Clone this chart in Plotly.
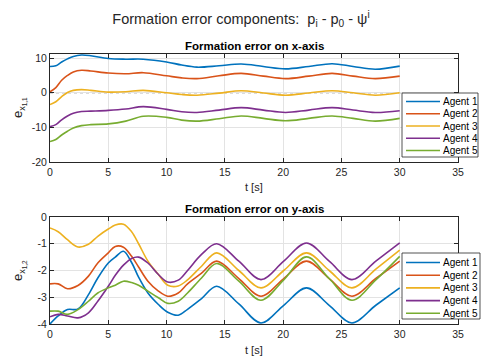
import plotly.graph_objects as go

# --- data ---
agents = ["Agent 1", "Agent 2", "Agent 3", "Agent 4", "Agent 5"]
colors = ["#0072BD", "#D95319", "#EDB120", "#7E2F8E", "#77AC30"]

# x-axis error (top panel)
t_x = [0, 0.5, 1.0, 1.5, 2.0, 2.7, 3.5, 5.0, 6.5, 8.0, 10.0, 11.3, 12.6,
       14.5, 16.4, 18.3, 20.2, 22.2, 24.2, 26.0, 27.9, 30.0]
ex_1 = [7.6, 7.8, 8.9, 9.8, 10.5, 10.9, 10.7, 9.9, 9.7, 9.7, 8.9, 8.0, 7.4,
        7.8, 8.3, 7.6, 6.9, 7.6, 8.4, 7.6, 6.8, 7.7]
ex_2 = [0.3, 1.5, 3.6, 5.0, 6.0, 6.5, 6.3, 5.7, 5.5, 5.8, 4.9, 4.3, 4.1,
        4.9, 5.6, 4.8, 4.1, 4.8, 5.6, 4.8, 4.1, 4.8]
ex_3 = [-3.4, -2.6, -1.1, 0.1, 0.7, 0.9, 0.7, 0.2, 0.3, 0.7, 0.0, -0.5, -0.7,
        -0.1, 0.6, -0.05, -0.7, -0.05, 0.6, 0.0, -0.7, 0.0]
ex_4 = [-9.8, -9.2, -7.8, -6.7, -5.9, -5.4, -5.3, -5.1, -4.7, -4.0, -4.8, -5.5, -5.7,
        -5.0, -4.3, -5.0, -5.7, -5.0, -4.3, -5.0, -5.7, -5.2]
ex_5 = [-14.1, -13.5, -12.2, -11.1, -10.2, -9.5, -9.2, -9.0, -8.2, -6.8, -7.1, -7.9, -8.2,
        -7.5, -6.7, -7.4, -8.1, -7.4, -6.7, -7.4, -8.2, -7.4]

# y-axis error (bottom panel)
t_y = [0, 0.7, 1.5, 2.4, 3.3, 4.1, 5.0, 5.6, 6.3, 7.0, 7.6, 8.4, 9.3, 10.1,
       11.0, 11.8, 13.0, 14.3, 16.2, 18.1, 20.05, 22.0, 23.95, 25.9, 27.95, 30.0]
ey_1 = [-4.0, -3.7, -3.46, -3.44, -2.9, -2.28, -1.72, -1.5, -1.28, -1.7, -2.25, -2.84, -3.27, -3.56,
        -3.67, -3.45, -3.05, -2.59, -3.25, -3.96, -3.3, -2.65, -3.3, -3.96, -3.3, -2.65]
ey_2 = [-2.5, -2.5, -2.68, -2.56, -2.21, -1.72, -1.34, -1.1, -1.13, -1.47, -1.87, -2.4, -2.77, -2.96,
        -2.84, -2.5, -2.1, -1.65, -2.3, -2.96, -2.3, -1.65, -2.3, -2.96, -2.3, -1.65]
ey_3 = [-0.41, -0.55, -0.85, -1.12, -1.02, -0.72, -0.45, -0.3, -0.27, -0.55, -1.0, -1.65, -2.15, -2.55,
        -2.58, -2.35, -1.84, -1.34, -2.0, -2.65, -2.0, -1.34, -2.0, -2.65, -1.95, -1.24]
ey_4 = [-3.73, -3.64, -3.7, -3.77, -3.58, -3.15, -2.59, -2.18, -1.8, -1.55, -1.5, -1.72, -2.15, -2.43,
        -2.36, -2.0, -1.4, -1.0, -1.65, -2.34, -1.65, -0.97, -1.65, -2.34, -1.65, -0.97]
ey_5 = [-3.52, -3.52, -3.64, -3.46, -3.15, -2.84, -2.65, -2.55, -2.4, -2.45, -2.55, -2.77, -3.02, -3.23,
        -3.15, -2.84, -2.28, -1.74, -2.4, -3.11, -2.35, -1.49, -2.3, -3.11, -2.35, -1.47]

x_ticks = [0, 5, 10, 15, 20, 25, 30, 35]
yx_ticks = [-20, -10, 0, 10]
yy_ticks = [-4, -3, -2, -1, 0]

W, H = 482, 361
FONT = "Liberation Sans, Arial, sans-serif"
AX = "#262626"
GRID = "#e3e3e3"

fig = go.Figure()

for name, col, ys in zip(agents, colors, [ex_1, ex_2, ex_3, ex_4, ex_5]):
    fig.add_trace(go.Scatter(x=t_x, y=ys, name=name, mode="lines",
                             line=dict(color=col, width=1.6, shape="spline"),
                             xaxis="x", yaxis="y"))

for name, col, ys in zip(agents, colors, [ey_1, ey_2, ey_3, ey_4, ey_5]):
    fig.add_trace(go.Scatter(x=t_y, y=ys, name=name, mode="lines",
                             line=dict(color=col, width=1.6, shape="spline"),
                             xaxis="x2", yaxis="y2"))

# dotted reference line at zero on the top panel
fig.add_shape(type="line", xref="x domain", yref="y", x0=0, x1=1, y0=0, y1=0,
              line=dict(color="#555555", width=0.8, dash="dot"), layer="below")


# MATLAB-like legend boxes (plotly's own legend enforces a 19px row height)
def add_legend(left, top, right, bottom, first_row, row_step):
    fig.add_shape(type="rect", xref="paper", yref="paper",
                  x0=left / W, x1=right / W, y0=1 - bottom / H, y1=1 - top / H,
                  line=dict(color=AX, width=0.8), fillcolor="white", layer="above")
    for i, (name, col) in enumerate(zip(agents, colors)):
        yy = 1 - (first_row + i * row_step) / H
        fig.add_shape(type="line", xref="paper", yref="paper",
                      x0=(left + 4) / W, x1=(left + 38) / W, y0=yy, y1=yy,
                      line=dict(color=col, width=1.6), layer="above")
        fig.add_annotation(text=name, xref="paper", yref="paper",
                           x=(left + 39) / W, y=yy, xanchor="left", yanchor="middle",
                           showarrow=False,
                           font=dict(size=10, color="#000000", family=FONT))


add_legend(402, 93, 478, 157, 101.5, 12.25)
add_legend(402, 253, 480, 319, 262.5, 12.7)


def x_axis(dom_anchor):
    return dict(domain=[50 / W, 458 / W], range=[0, 35], anchor=dom_anchor,
                automargin=False,
                tickvals=x_ticks, ticks="inside", ticklen=4, tickcolor=AX,
                showline=True, linecolor=AX, linewidth=1, mirror="ticks",
                showgrid=True, gridcolor=GRID, zeroline=False,
                tickfont=dict(size=10.5, color=AX, family=FONT))


def y_axis(dom, rng, ticks, anchor):
    return dict(domain=dom, range=rng, anchor=anchor, automargin=False,
                tickvals=ticks, ticktext=[str(v) for v in ticks],
                ticks="inside", ticklen=4, tickcolor=AX,
                showline=True, linecolor=AX, linewidth=1, mirror="ticks",
                showgrid=True, gridcolor=GRID, zeroline=False,
                tickfont=dict(size=10.5, color=AX, family=FONT))


fig.update_layout(
    width=W, height=H,
    margin=dict(l=0, r=0, t=0, b=0),
    paper_bgcolor="white", plot_bgcolor="white",
    font=dict(family=FONT, color=AX),
    showlegend=False,
    xaxis=x_axis("y"),
    yaxis=y_axis([1 - 162 / H, 1 - 54 / H], [-20, 11.2], yx_ticks, "x"),
    xaxis2=x_axis("y2"),
    yaxis2=y_axis([1 - 324 / H, 1 - 217 / H], [-4, 0], yy_ticks, "x2"),
    title=dict(text="Formation error components:  p<sub>i</sub> - p<sub>0</sub> - \u03c8<sup>i</sup>",
               x=0.5, xanchor="center", y=1 - 19 / H, yanchor="middle",
               font=dict(size=14.5, color=AX, family=FONT)),
)

# panel titles and axis titles
for title, ytitle, top_px, xt_px in [
    ("Formation error on x-axis", "e<sub>x<sub>1,1</sub></sub>", 54, 187),
    ("Formation error on y-axis", "e<sub>x<sub>1,2</sub></sub>", 217, 350),
]:
    fig.add_annotation(text="<b>" + title + "</b>", x=254 / W, y=1 - (top_px - 8) / H,
                       xref="paper", yref="paper", showarrow=False, yanchor="middle",
                       font=dict(size=11.5, color="#000000", family=FONT))
    fig.add_annotation(text="t [s]", x=254 / W, y=1 - xt_px / H,
                       xref="paper", yref="paper", showarrow=False, yanchor="middle",
                       font=dict(size=11, color=AX, family=FONT))
    fig.add_annotation(text=ytitle, x=19 / W, y=1 - (top_px + 54) / H, textangle=-90,
                       xref="paper", yref="paper", showarrow=False,
                       xanchor="center", yanchor="middle",
                       font=dict(size=13, color=AX, family=FONT))

fig.write_html("out.html", config={"displayModeBar": False},
               post_script="document.body.style.margin = '0';")
